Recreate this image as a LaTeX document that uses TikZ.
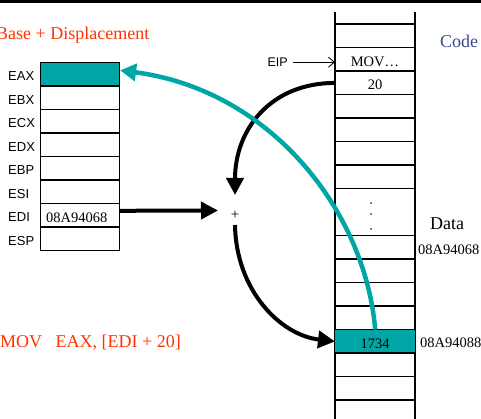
\documentclass[tikz,border=0pt]{standalone}
\usepackage{fontspec}
\setmainfont{Liberation Serif}
\newfontfamily\arialf{Liberation Sans}
\usetikzlibrary{arrows.meta}
\definecolor{tealc}{RGB}{0,166,166}
\definecolor{redt}{RGB}{255,51,0}
\definecolor{codeblue}{RGB}{59,74,140}
\begin{document}
\begin{tikzpicture}[x=1pt,y=-1pt,
  big/.style={font=\fontsize{18}{20}\selectfont, inner sep=0, anchor=base west},
  small/.style={font=\fontsize{14.5}{16}\selectfont, inner sep=0},
  reglab/.style={font=\arialf\fontsize{13}{15}\selectfont, inner sep=0, anchor=base west},
  regcell/.style={draw, line width=1.1pt, minimum width=79.5pt, minimum height=23.5pt, inner sep=0, anchor=north west},
  memcell/.style={minimum width=80pt, minimum height=23.5pt, inner sep=0, anchor=north west},
  memline/.style={line width=1.1pt},
  thickarrow/.style={line width=4pt, -{Triangle[length=17pt,width=17pt]}},
  tealarrow/.style={draw=tealc, line width=4.5pt, -{Triangle[length=16pt,width=17pt]}},
]
\useasboundingbox (0,0) rectangle (481,419);
% top bar
\fill (0,0) rectangle (481,3.5);

% titles
\node[big, text=redt] (title) at (-4,39.5) {Base + Displacement};
\node[big, text=codeblue] (code) at (440,48) {Code};
\node[big] (data) at (430,230) {Data};
\node[big, text=redt] (instr) at (0,347.5) {MOV\ \ \ EAX, [EDI + 20]};

% registers
\node[regcell, fill=tealc] (rEAX) at (39.5,62) {};
\foreach \n/\i in {EBX/1,ECX/2,EDX/3,EBP/4,ESI/5,EDI/6,ESP/7}{
  \node[regcell] (r\n) at (39.5,62+23.5*\i) {};
}
\foreach \n/\i in {EAX/0,EBX/1,ECX/2,EDX/3,EBP/4,ESI/5,EDI/6,ESP/7}{
  \node[reglab] (l\n) at (8,62+23.5*\i+19) {\n};
}
\node[small, anchor=base west] (edival) at (46,223) {08A94068};

% memory column
\draw[memline] (335,12) -- (335,419);
\draw[memline] (415,12) -- (415,419);
\foreach \y in {24,47.5,71,94.5,118,141.5,165,188.5,235.5,259,282.5,306,329.5,353,376.5,400}{
  \draw[memline] (335,\y) -- (415,\y);
}
\node[memcell] (mov) at (335,47.5) {};
\node[memcell] (m20) at (335,71) {};
\node[memcell, fill=tealc] (m1734) at (335,329.5) {};
\draw[memline] (335,329.5) -- (415,329.5) (335,353) -- (415,353);
\node[small, anchor=base] (movtxt) at (375,66.5) {MOV…};
\node[small, anchor=base] (t20) at (375,89.5) {20};
\node[small, anchor=base] (t1734) at (375,348) {1734};
\fill (371,203) circle (0.8) (371,214) circle (0.8) (371,229) circle (0.8);

% addresses
\node[small, anchor=base west] (a1) at (418,254.5) {08A94068};
\node[small, anchor=base west] (a2) at (420,347.5) {08A94088};

% EIP
\node[font=\arialf\fontsize{12.5}{14}\selectfont, inner sep=0, anchor=base east] (eip) at (288,66.5) {EIP};
\draw[line width=0.8pt, -{Straight Barb[length=6pt,width=10pt]}] ([xshift=5pt]eip.east) -- (eip.east -| mov.west);

% plus
\node[font=\fontsize{15}{16}\selectfont, inner sep=0] (plus) at (235,215) {+};

% black arrows
\draw[thickarrow] (m20.west) .. controls (270,83) and (235,130) .. ([yshift=20pt]plus.center);
\draw[thickarrow] ([yshift=4.5pt]rEDI.east) -- ([xshift=-17pt,yshift=4.5pt]plus.center);
\draw[thickarrow] ([yshift=-10pt]plus.center) .. controls (236,290) and (280,335) .. (m1734.west);

% teal arrow
\draw[tealarrow] (m1734.north) .. controls (365,210) and (270,90) .. ([yshift=4pt]rEAX.east);
\end{tikzpicture}
\end{document}
